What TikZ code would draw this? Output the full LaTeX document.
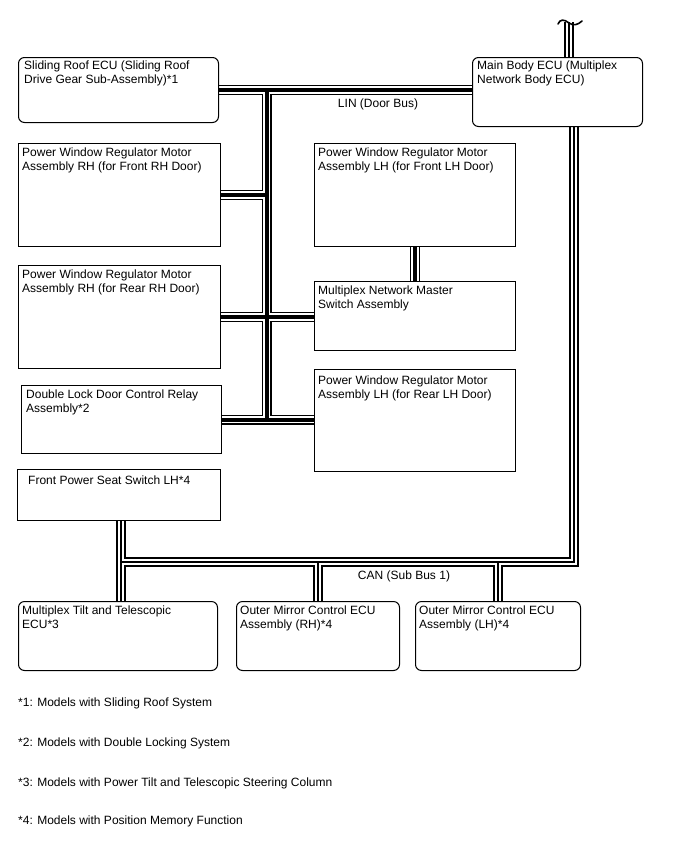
\documentclass[tikz,border=0pt]{standalone}
\usepackage{fontspec}
\setmainfont{Liberation Sans}
\usetikzlibrary{backgrounds}
\begin{document}
\begin{tikzpicture}[x=1pt,y=-1pt,
  every node/.style={font=\fontsize{12}{14}\selectfont},
  box/.style={draw, line width=1pt, anchor=north west, inner sep=0pt, minimum width=#1},
  rbox/.style={box=#1, rounded corners=6pt},
  lbl/.style={anchor=north west, inner sep=0pt, align=left},
  foot/.style={anchor=base west, inner sep=0pt},
]
\useasboundingbox (0,0) rectangle (688,852);

% boxes
\node[rbox=200pt, minimum height=65pt]  (sr)  at (18,57)  {};
\node[rbox=170pt, minimum height=69pt]  (mb)  at (472,57) {};
\node[box=202pt,  minimum height=103pt] (rhf) at (18,143) {};
\node[box=201pt,  minimum height=103pt] (lhf) at (314,143) {};
\node[box=202pt,  minimum height=103pt] (rhr) at (18,265) {};
\node[box=201pt,  minimum height=69pt]  (ms)  at (314,281) {};
\node[box=200pt,  minimum height=68pt]  (dl)  at (21,385) {};
\node[box=201pt,  minimum height=102pt] (lhr) at (314,369) {};
\node[box=203pt,  minimum height=51pt]  (ps)  at (17,469) {};
\node[rbox=199pt, minimum height=69pt]  (mt)  at (18,601) {};
\node[rbox=163pt, minimum height=69pt]  (omr) at (236,601) {};
\node[rbox=165pt, minimum height=69pt]  (oml) at (415,601) {};

% box texts
\node[lbl] (sr-t)  at ([shift={(6,3.3)}]sr.north west)  {Sliding Roof ECU (Sliding Roof\\Drive Gear Sub-Assembly)*1};
\node[lbl] (mb-t)  at ([shift={(5,3.3)}]mb.north west)  {Main Body ECU (Multiplex\\Network Body ECU)};
\node[lbl] (rhf-t) at ([shift={(4,4.3)}]rhf.north west) {Power Window Regulator Motor\\Assembly RH (for Front RH Door)};
\node[lbl] (lhf-t) at ([shift={(4,4.3)}]lhf.north west) {Power Window Regulator Motor\\Assembly LH (for Front LH Door)};
\node[lbl] (rhr-t) at ([shift={(4,4.3)}]rhr.north west) {Power Window Regulator Motor\\Assembly RH (for Rear RH Door)};
\node[lbl] (ms-t)  at ([shift={(4,4.3)}]ms.north west)  {Multiplex Network Master\\Switch Assembly};
\node[lbl] (dl-t)  at ([shift={(5,4.3)}]dl.north west)  {Double Lock Door Control Relay\\Assembly*2};
\node[lbl] (lhr-t) at ([shift={(4,6.5)}]lhr.north west) {Power Window Regulator Motor\\Assembly LH (for Rear LH Door)};
\node[lbl] (ps-t)  at ([shift={(11,6.4)}]ps.north west) {Front Power Seat Switch LH*4};
\node[lbl] (mt-t)  at ([shift={(4,4.4)}]mt.north west)  {Multiplex Tilt and Telescopic\\ECU*3};
\node[lbl] (omr-t) at ([shift={(4,4.4)}]omr.north west) {Outer Mirror Control ECU\\Assembly (RH)*4};
\node[lbl] (oml-t) at ([shift={(4,4.4)}]oml.north west) {Outer Mirror Control ECU\\Assembly (LH)*4};

% bus labels
\node (lin) at (378,104) {LIN (Door Bus)};
\node (can) at (404,576) {CAN (Sub Bus 1)};

% footnotes
\node[foot] (f1) at (18,706) {*1: Models with Sliding Roof System};
\node[foot] (f2) at (18,746) {*2: Models with Double Locking System};
\node[foot] (f3) at (18,786) {*3: Models with Power Tilt and Telescopic Steering Column};
\node[foot] (f4) at (18,824) {*4: Models with Position Memory Function};

% wiring
\coordinate (trk) at (266.5,0);
\coordinate (cR) at (574,562);
\coordinate (cL) at (121,562);
\coordinate (cT) at (569,22);
\begin{scope}[on background layer]
\foreach \w/\c in {10/black,7.6/white,4/black}{
  \draw[line width=\w pt, draw=\c]
    (sr.east) -- (sr.east -| mb.west)
    (sr.east -| trk) -- (dl.east -| trk)
    (rhf.east) -- (rhf.east -| trk)
    (rhr.east) -- (rhr.east -| ms.west)
    (dl.east) -- (dl.east -| lhr.west)
    (lhf.south) -- (ms.north);
}
\foreach \w/\c in {10.5/black,6.5/white,2.2/black}{
  \draw[line width=\w pt, draw=\c, line join=miter]
    (mb.south -| cR) -- (cR) -- (cL)
    (ps.south -| cL) -- (mt.north -| cL)
    (omr.north) -- (omr.north |- cL)
    (oml.north) -- (oml.north |- cL)
    (mb.north -| cT) -- (cT);
}
\end{scope}
% cable break mark
\draw[line width=1.6pt, line cap=round] (558,24) .. controls (560,19) and (564,19) .. (569,23) .. controls (573,26) and (578,25) .. (582,21);
\end{tikzpicture}
\end{document}
